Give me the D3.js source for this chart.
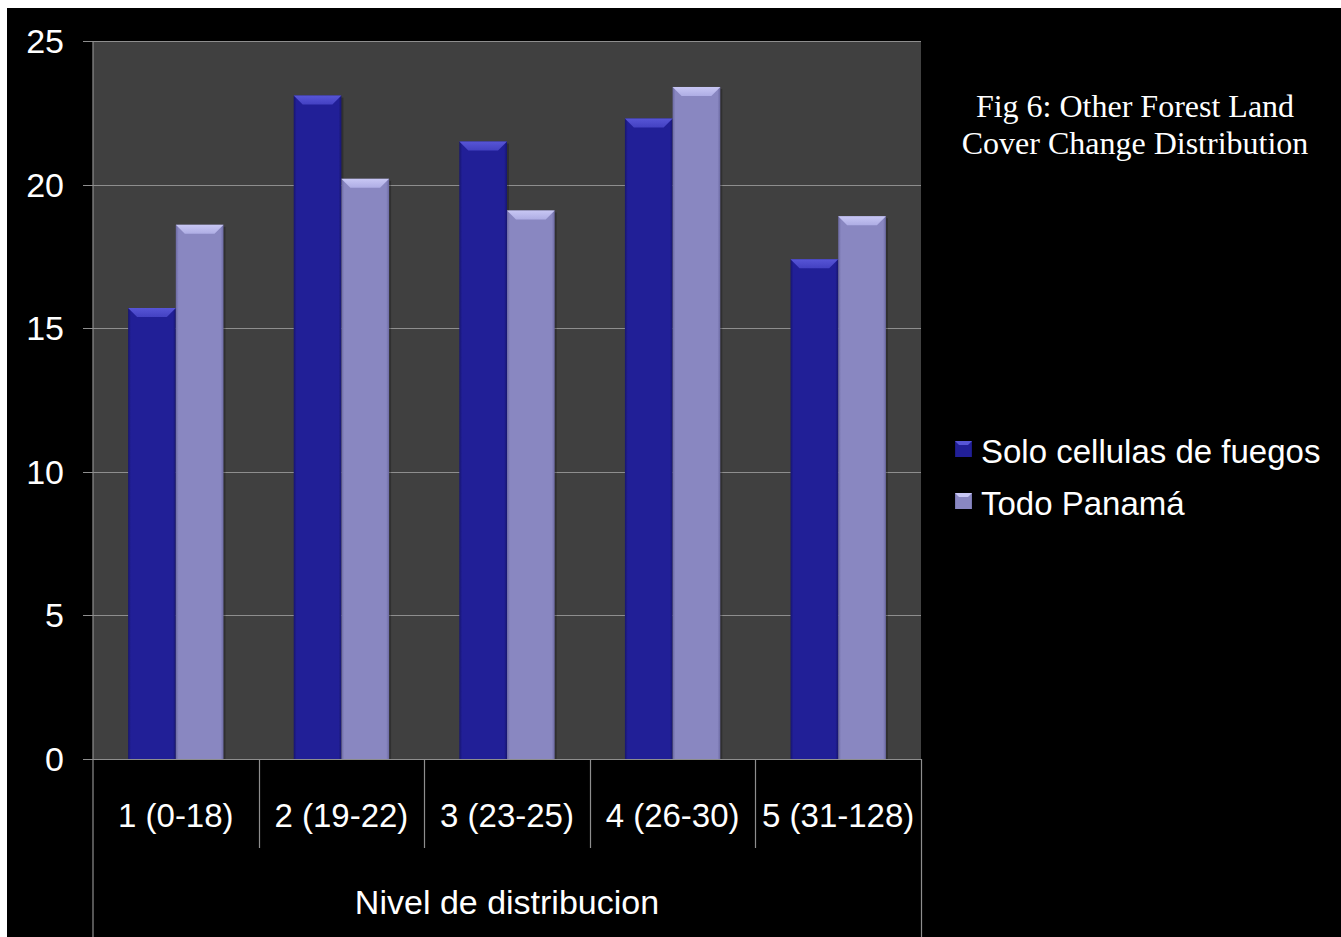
<!DOCTYPE html>
<html>
<head>
<meta charset="utf-8">
<script src="https://cdn.jsdelivr.net/npm/d3@7/dist/d3.min.js"></script>
<style>
  html, body { margin: 0; padding: 0; background: #fff; }
  svg { display: block; }
</style>
</head>
<body>
<svg id="chart" width="1341" height="937"></svg>
<script>
const categories = ["1 (0-18)", "2 (19-22)", "3 (23-25)", "4 (26-30)", "5 (31-128)"];
const seriesNames = ["Solo cellulas de fuegos", "Todo Panamá"];
const soloCellulas = [15.7, 23.1, 21.5, 22.3, 17.4];
const todoPanama = [18.6, 20.2, 19.1, 23.4, 18.9];
const yTicks = [0, 5, 10, 15, 20, 25];
const titleLines = ["Fig 6: Other Forest Land", "Cover Change Distribution"];
const xAxisTitle = "Nivel de distribucion";

const seriesValues = [soloCellulas, todoPanama];
const styles = [
  { main: "#211f97", edge: "#17156f", bevel: "#4341c2", bevelHi: "#5755d6" },
  { main: "#8987c1", edge: "#6c6aa3", bevel: "#aeade4", bevelHi: "#c8c7f4" }
];

const svg = d3.select("#chart");
const W = 1341, H = 937;
svg.append("rect").attr("width", W).attr("height", H).attr("fill", "#ffffff");
svg.append("rect").attr("x", 7).attr("y", 8).attr("width", W - 7).attr("height", H - 8).attr("fill", "#000000");

const plot = { left: 93, right: 921, top: 41, bottom: 759 };

const x0 = d3.scaleBand().domain(categories).range([plot.left, plot.right]).padding(0);
const bw = x0.bandwidth();
const pad = bw * 0.212;
const x1 = d3.scaleBand().domain(seriesNames).range([pad, bw - pad]).padding(0);
const y = d3.scaleLinear().domain([0, 25]).range([plot.bottom, plot.top]);

const defs = svg.append("defs");
styles.forEach((s, i) => {
  const g = defs.append("linearGradient").attr("id", "grad" + i).attr("x1", "0").attr("x2", "1").attr("y1", "0").attr("y2", "0");
  g.append("stop").attr("offset", "0").attr("stop-color", s.edge);
  g.append("stop").attr("offset", "0.06").attr("stop-color", s.main);
  g.append("stop").attr("offset", "0.94").attr("stop-color", s.main);
  g.append("stop").attr("offset", "1").attr("stop-color", s.edge);
  const gb = defs.append("linearGradient").attr("id", "bev" + i).attr("x1", "0").attr("x2", "0").attr("y1", "0").attr("y2", "1");
  gb.append("stop").attr("offset", "0").attr("stop-color", s.bevelHi);
  gb.append("stop").attr("offset", "1").attr("stop-color", s.bevel);
});

svg.append("rect")
  .attr("x", plot.left).attr("y", plot.top)
  .attr("width", plot.right - plot.left).attr("height", plot.bottom - plot.top)
  .attr("fill", "#404040");

svg.append("g").selectAll("line").data(yTicks).join("line")
  .attr("x1", 83).attr("x2", plot.right)
  .attr("y1", d => Math.round(y(d)) + 0.5).attr("y2", d => Math.round(y(d)) + 0.5)
  .attr("stroke", "#8e8e8e").attr("stroke-width", 1);

svg.append("g").selectAll("text").data(yTicks).join("text")
  .attr("x", 64).attr("y", d => y(d) + 12)
  .attr("text-anchor", "end")
  .attr("font-family", "Liberation Sans, Arial, sans-serif")
  .attr("font-size", 34).attr("fill", "#ffffff")
  .text(d => d);

const groups = svg.append("g").selectAll("g").data(categories).join("g")
  .attr("transform", d => `translate(${x0(d)},0)`);

groups.each(function(cat, ci) {
  const g = d3.select(this);
  seriesNames.forEach((sn, si) => {
    const v = seriesValues[si][ci];
    const bx = x1(sn), w = x1.bandwidth();
    const top = y(v), bot = y(0);
    g.append("rect").attr("x", bx + 2).attr("y", top + 2).attr("width", w).attr("height", bot - top - 2)
      .attr("fill", "#000").attr("opacity", 0.25);
    g.append("rect").attr("x", bx).attr("y", top).attr("width", w).attr("height", bot - top)
      .attr("fill", `url(#grad${si})`);
    const b = 9;
    g.append("path")
      .attr("d", `M${bx},${top} L${bx + w},${top} L${bx + w - b},${top + b} L${bx + b},${top + b} Z`)
      .attr("fill", `url(#bev${si})`);
  });
});

const axis = svg.append("g").attr("stroke", "#8e8e8e").attr("stroke-width", 1.2);
axis.append("line").attr("x1", plot.left).attr("x2", plot.left).attr("y1", plot.top).attr("y2", H);
axis.append("line").attr("x1", plot.right + 0.5).attr("x2", plot.right + 0.5).attr("y1", plot.bottom).attr("y2", H);
axis.append("line").attr("x1", 83).attr("x2", plot.right).attr("y1", plot.bottom + 0.5).attr("y2", plot.bottom + 0.5);
axis.selectAll("line.sep").data(categories.slice(1)).join("line").attr("class", "sep")
  .attr("x1", d => Math.round(x0(d)) + 0.5).attr("x2", d => Math.round(x0(d)) + 0.5)
  .attr("y1", plot.bottom).attr("y2", 848);

svg.append("g").selectAll("text").data(categories).join("text")
  .attr("x", d => x0(d) + bw / 2).attr("y", 827)
  .attr("text-anchor", "middle")
  .attr("font-family", "Liberation Sans, Arial, sans-serif")
  .attr("font-size", 33).attr("fill", "#ffffff")
  .text(d => d);

svg.append("text")
  .attr("x", (plot.left + plot.right) / 2).attr("y", 914)
  .attr("text-anchor", "middle")
  .attr("font-family", "Liberation Sans, Arial, sans-serif")
  .attr("font-size", 34).attr("fill", "#ffffff")
  .text(xAxisTitle);

const legend = svg.append("g");
seriesNames.forEach((sn, i) => {
  const ly = 463 + i * 52;
  const s = styles[i];
  legend.append("rect").attr("x", 955).attr("y", ly - 22).attr("width", 17).attr("height", 16)
    .attr("fill", `url(#grad${i})`);
  legend.append("path")
    .attr("d", `M955,${ly - 22} L972,${ly - 22} L968,${ly - 18} L959,${ly - 18} Z`)
    .attr("fill", s.bevelHi);
  legend.append("text").attr("x", 981).attr("y", ly)
    .attr("font-family", "Liberation Sans, Arial, sans-serif")
    .attr("font-size", 33).attr("fill", "#ffffff")
    .text(sn);
});

svg.append("g").selectAll("text").data(titleLines).join("text")
  .attr("x", 1135).attr("y", (d, i) => 117 + i * 37)
  .attr("text-anchor", "middle")
  .attr("font-family", "Liberation Serif, Times New Roman, serif")
  .attr("font-size", 32).attr("fill", "#ffffff")
  .text(d => d);
</script>
</body>
</html>
